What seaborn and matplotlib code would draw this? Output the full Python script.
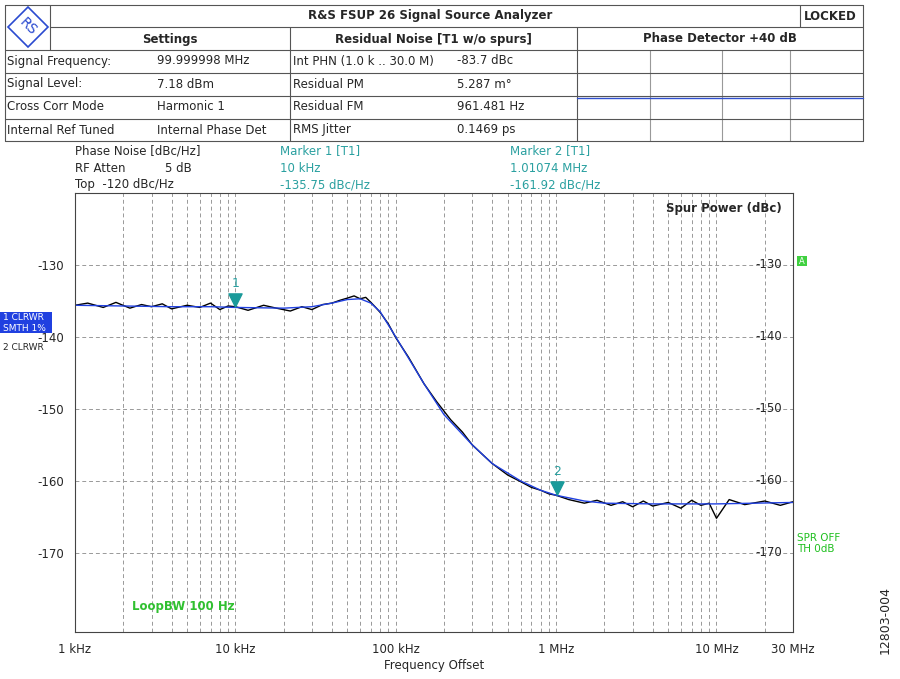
import matplotlib
matplotlib.use("Agg")
import matplotlib.pyplot as plt
import seaborn as sns
import numpy as np
from matplotlib.patches import Rectangle, Polygon

sns.set_theme(style="white")
plt.rcParams['font.family'] = ['DejaVu Sans']

# trace data (frequency Hz, dBc/Hz)
freq_black = [1e3,1.2e3,1.5e3,1.8e3,2.2e3,2.6e3,3e3,3.5e3,4e3,5e3,6e3,7e3,8e3,9e3,1e4,1.2e4,1.5e4,1.8e4,2.2e4,2.6e4,3e4,3.5e4,4e4,4.5e4,5e4,5.5e4,6e4,6.5e4,7e4,7.5e4,8e4,9e4,1e5,1.2e5,1.5e5,1.8e5,2.2e5,2.6e5,3e5,3.5e5,4e5,5e5,6e5,7e5,8e5,9e5,1e6,1.2e6,1.5e6,1.8e6,2.2e6,2.6e6,3e6,3.5e6,4e6,5e6,6e6,7e6,8e6,9e6,1e7,1.2e7,1.5e7,2e7,2.5e7,3e7]
pn_black = [-135.6,-135.3,-135.9,-135.2,-136.0,-135.5,-135.8,-135.4,-136.1,-135.6,-135.9,-135.3,-136.2,-135.7,-135.8,-136.3,-135.6,-136.0,-136.4,-135.8,-136.2,-135.5,-135.3,-134.9,-134.6,-134.3,-134.7,-134.5,-135.2,-135.9,-136.6,-138.2,-140.1,-142.8,-146.5,-149.0,-151.5,-153.2,-155.0,-156.4,-157.6,-159.2,-160.1,-160.9,-161.3,-161.8,-162.0,-162.6,-163.1,-162.7,-163.4,-162.9,-163.6,-162.8,-163.5,-163.0,-163.8,-162.7,-163.4,-163.1,-165.2,-162.6,-163.3,-162.8,-163.4,-162.9]
freq_blue = [1e3,2e3,4e3,7e3,1e4,2e4,3e4,4e4,5e4,6e4,7e4,8e4,1e5,1.5e5,2e5,3e5,4e5,6e5,8e5,1e6,1.5e6,2e6,4e6,1e7,3e7]
pn_blue = [-135.6,-135.7,-135.8,-135.8,-135.9,-136.0,-135.8,-135.3,-134.8,-134.7,-135.3,-136.5,-140.0,-146.5,-150.8,-155.0,-157.6,-160.0,-161.3,-162.0,-162.8,-163.1,-163.2,-163.2,-163.0]
yticks = [-130,-140,-150,-160,-170]
xtick_vals = [1e3,1e4,1e5,1e6,1e7,3e7]
xtick_labels = ["1 kHz","10 kHz","100 kHz","1 MHz","10 MHz","30 MHz"]
markers_f = [1e4, 1.01074e6]
markers_v = [-135.75, -161.92]

W, H = 900, 679
fig = plt.figure(figsize=(9, 6.79), dpi=100)
def fx(px): return px / W
def fy(py): return 1 - py / H
def txt(px, py, s, **kw):
    kw.setdefault('fontsize', 8.5)
    kw.setdefault('va', 'center')
    fig.text(fx(px), fy(py), s, **kw)
def hline(x0, x1, py, **kw):
    fig.add_artist(plt.Line2D([fx(x0), fx(x1)], [fy(py), fy(py)], color='#555555', lw=0.8, **kw))
def vline(px, y0, y1, **kw):
    fig.add_artist(plt.Line2D([fx(px), fx(px)], [fy(y0), fy(y1)], color='#555555', lw=0.8, **kw))

# table
hline(5, 863, 5); hline(50, 863, 27); hline(5, 863, 50)
for py in [73, 96, 119, 141]:
    hline(5, 863, py)
vline(5, 5, 141); vline(50, 5, 50); vline(863, 5, 141)
vline(290, 27, 141); vline(577, 27, 141); vline(800, 5, 27)
for px in [650, 722, 790]:
    vline(px, 50, 141, alpha=0.6)
fig.add_artist(Polygon([(fx(28), fy(7)), (fx(48), fy(27)), (fx(28), fy(47)), (fx(8), fy(27))],
                       closed=True, transform=fig.transFigure, facecolor='white', edgecolor='#2a4ad0', lw=1.2))
txt(28, 27, "RS", color='#2a4ad0', fontsize=10, ha='center', rotation=-45)
txt(430, 16, "R&S FSUP 26 Signal Source Analyzer", ha='center', weight='bold')
txt(830, 16, "LOCKED", ha='center', weight='bold')
txt(170, 39, "Settings", ha='center', weight='bold')
txt(433, 39, "Residual Noise [T1 w/o spurs]", ha='center', weight='bold')
txt(720, 39, "Phase Detector +40 dB", ha='center', weight='bold')
rows = [("Signal Frequency:", "99.999998 MHz", "Int PHN (1.0 k .. 30.0 M)", "-83.7 dBc"),
        ("Signal Level:", "7.18 dBm", "Residual PM", "5.287 m°"),
        ("Cross Corr Mode", "Harmonic 1", "Residual FM", "961.481 Hz"),
        ("Internal Ref Tuned", "Internal Phase Det", "RMS Jitter", "0.1469 ps")]
for i, (a, b, c, d) in enumerate(rows):
    py = 61 + 23 * i
    txt(7, py, a); txt(157, py, b); txt(293, py, c); txt(457, py, d)
fig.add_artist(plt.Line2D([fx(577), fx(863)], [fy(98), fy(98)], color='#3050d0', lw=1))

# header above plot
teal = '#2aa0a0'
txt(75, 151, "Phase Noise [dBc/Hz]"); txt(75, 168, "RF Atten"); txt(165, 168, "5 dB")
txt(75, 185, "Top  -120 dBc/Hz")
txt(280, 151, "Marker 1 [T1]", color=teal); txt(280, 168, "10 kHz", color=teal)
txt(280, 185, "-135.75 dBc/Hz", color=teal)
txt(510, 151, "Marker 2 [T1]", color=teal); txt(510, 168, "1.01074 MHz", color=teal)
txt(510, 185, "-161.92 dBc/Hz", color=teal)

ax = fig.add_axes([fx(75), fy(632), fx(793) - fx(75), fy(193) - fy(632)])
sns.lineplot(x=freq_black, y=pn_black, ax=ax, color='black', lw=1.0, estimator=None)
sns.lineplot(x=freq_blue, y=pn_blue, ax=ax, color='#2040e0', lw=1.0, estimator=None)
ax.set_xscale('log')
ax.set_xlim(1e3, 3e7); ax.set_ylim(-181, -120)
minor = [m * 10**e for e in range(3, 8) for m in range(1, 10) if m * 10**e <= 3e7]
for f in minor:
    ax.axvline(f, color='#999999', lw=0.7, ls=(0, (4, 3)), zorder=0)
for y in yticks:
    ax.axhline(y, color='#999999', lw=0.7, ls=(0, (4, 3)), zorder=0)
ax.set_xticks(xtick_vals); ax.set_xticklabels(xtick_labels, fontsize=8.5)
ax.set_xticks([], minor=True)
ax.set_yticks(yticks); ax.set_yticklabels([str(v) for v in yticks], fontsize=8.5)
ax.tick_params(length=0, pad=8)
ax.set_xlabel("Frequency Offset", fontsize=8.5, labelpad=2)
for sp in ax.spines.values():
    sp.set_color('#444444'); sp.set_linewidth(0.8)
for y in yticks:
    ax.text(0.985, y, str(y), transform=ax.get_yaxis_transform(), ha='right', va='center', fontsize=8.5)
ax.scatter(markers_f, [v + 0.9 for v in markers_v], marker='v', s=90, color='#1a9a9a', zorder=5)
for i, (f, v) in enumerate(zip(markers_f, markers_v)):
    ax.text(f, v + 2.7, str(i + 1), color=teal, ha='center', fontsize=9)
ax.text(0.985, 0.98, "Spur Power (dBc)", transform=ax.transAxes, ha='right', va='top', fontsize=8.5, weight='bold')
ax.text(0.08, 0.05, "LoopBW 100 Hz", transform=ax.transAxes, color='#30c030', fontsize=8.5, weight='bold')

txt(797, 538, "SPR OFF", color='#20c020', fontsize=7.5)
txt(797, 549, "TH 0dB", color='#20c020', fontsize=7.5)
fig.add_artist(Rectangle((fx(797), fy(266)), fx(10), fy(256)-fy(266), transform=fig.transFigure,
                         facecolor='#40d040', edgecolor='none'))
txt(802, 261, "A", color='white', fontsize=6, ha='center')
fig.add_artist(Rectangle((fx(0), fy(333)), fx(52), fy(312)-fy(333), transform=fig.transFigure,
                         facecolor='#2040e0', edgecolor='none'))
txt(3, 317, "1 CLRWR", color='white', fontsize=6.5)
txt(3, 328, "SMTH 1%", color='white', fontsize=6.5)
txt(3, 348, "2 CLRWR", fontsize=6.5)
txt(885, 620, "12803-004", rotation=90, ha='center', fontsize=9)

fig.savefig("out.png", dpi=100)
